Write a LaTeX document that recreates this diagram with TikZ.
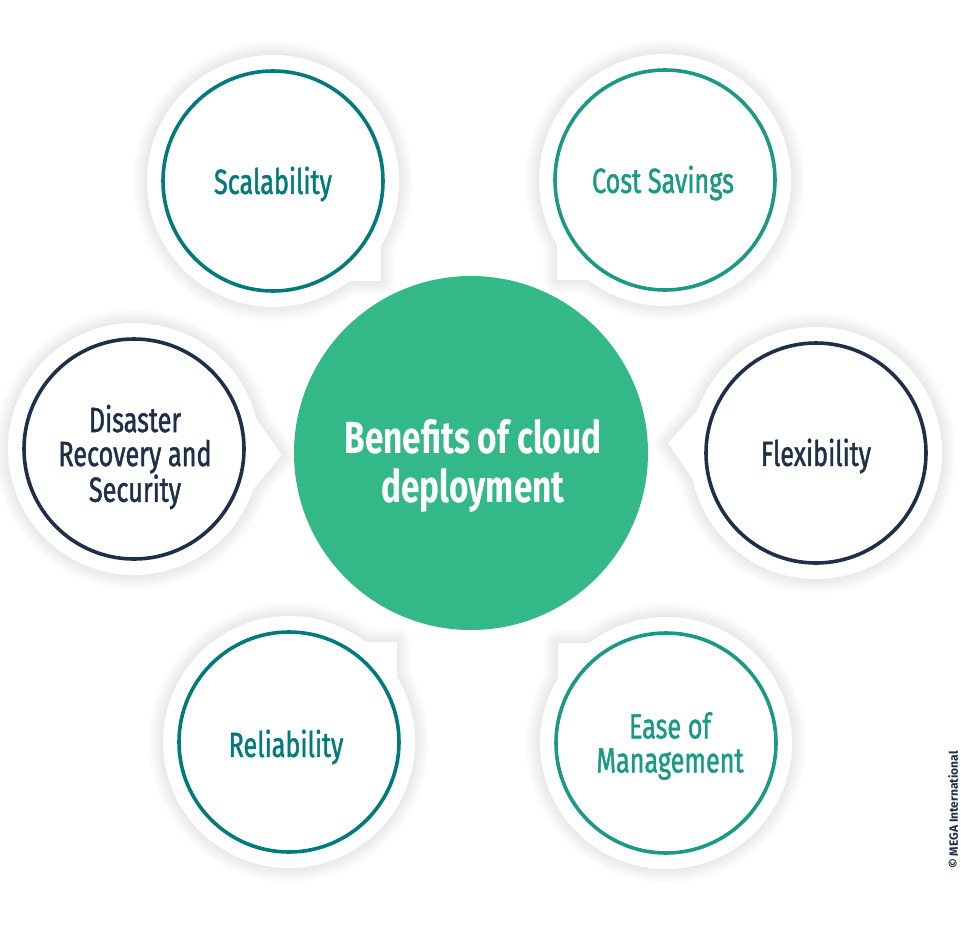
\documentclass[tikz,border=0pt]{standalone}
\usepackage{fontspec}
\newfontfamily\labfont[FakeStretch=0.72, FakeBold=1.2]{Fira Sans}
\newfontfamily\cenfont[FakeStretch=0.74]{Fira Sans}
\newfontfamily\cpyfont{Fira Sans}
\definecolor{tealA}{HTML}{007B7A}
\definecolor{tealB}{HTML}{1A9A85}
\definecolor{navy}{HTML}{1E2F4A}
\definecolor{cgreen}{HTML}{33B887}
\newcommand\cornerbub[7]{% style, center, alpha_h, corner, alpha_v, delta
  \path[#1] ([shift={(#3:126)}]#2) -- (#4) -- ([shift={(#5:126)}]#2)
    arc[start angle=#5, delta angle=#6, radius=126] -- cycle;}
\newcommand\tipbub[5]{% style, center, tip, start angle
  \path[#1] (#3) -- ([shift={(#4:126)}]#2)
    arc[start angle=#4, delta angle=328, radius=126] -- cycle;}
\newcommand\allbubs[1]{%
  \cornerbub{#1}{273,181}{52.5}{381,281}{31}{-338.5}{}
  \cornerbub{#1}{665,180}{127.5}{557,280}{149}{338.5}{}
  \cornerbub{#1}{289,742}{-52.5}{397,642}{-31}{338.5}{}
  \cornerbub{#1}{666,743}{-127.5}{558,643}{-149}{-338.5}{}
  \tipbub{#1}{134,449}{282,455}{18.3}{}
  \tipbub{#1}{816,453}{668,443}{199.9}{}
}
\tikzset{
  ring/.style={draw, line width=3.6pt, fill=white},
  lab/.style={font=\labfont\fontsize{35}{34}\selectfont, align=center, inner sep=0pt},
}
\begin{document}
\begin{tikzpicture}[x=1pt,y=-1pt]
\useasboundingbox[fill=white] (0,0) rectangle (961,926);
% soft shadows
\foreach \w in {28,24,20,16,12,8,4}{
  \allbubs{draw=black, opacity=0.011, line width=\w pt, line join=round}
}
\allbubs{fill=white}
% centre
\node[circle, fill=cgreen, minimum size=354pt, inner sep=0pt] (c) at (471,453) {};
\node[font=\cenfont\bfseries\fontsize{45}{49}\selectfont, text=white, align=center] (ct) at (473,466) {Benefits of cloud\\deployment};
% outer circles
\node[circle, ring, draw=tealA, minimum size=220pt, inner sep=0pt] (s) at (273,181) {};
\node[circle, ring, draw=tealB, minimum size=220pt, inner sep=0pt] (cs) at (665,180) {};
\node[circle, ring, draw=navy, minimum size=220pt, inner sep=0pt] (d) at (134,449) {};
\node[circle, ring, draw=navy, minimum size=220pt, inner sep=0pt] (f) at (816,453) {};
\node[circle, ring, draw=tealA, minimum size=220pt, inner sep=0pt] (r) at (289,742) {};
\node[circle, ring, draw=tealB, minimum size=220pt, inner sep=0pt] (e) at (666,743) {};
\node[lab, text=tealA] (st) at (273,184) {Scalability};
\node[lab, text=tealB] (cst) at (663,183) {Cost Savings};
\node[lab, text=navy] (dt) at (135,457) {Disaster\\Recovery and\\Security};
\node[lab, text=navy] (ft) at (816,456) {Flexibility};
\node[lab, text=tealA] (rt) at (286,747) {Reliability};
\node[lab, text=tealB] (et) at (670,746) {Ease of\\Management};
\node[rotate=90, font=\cpyfont\bfseries\fontsize{12}{12}\selectfont, text=navy, inner sep=0pt] (cp) at (953,810) {\copyright\ MEGA International};
\end{tikzpicture}
\end{document}
